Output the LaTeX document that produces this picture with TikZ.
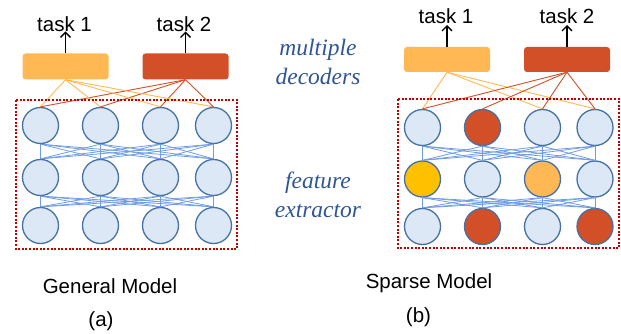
\documentclass[tikz,border=0pt]{standalone}
\usepackage{fontspec}
\setmainfont{Liberation Sans}
\newfontfamily\notefont{Liberation Serif}
\usepackage{tikz}
\usetikzlibrary{arrows.meta}

\definecolor{cellfill}{HTML}{DDE8F7}
\definecolor{celldraw}{HTML}{4571A6}
\definecolor{linkblue}{HTML}{6E9CE6}
\definecolor{taskone}{HTML}{FFB853}
\definecolor{tasktwo}{HTML}{D24F28}
\definecolor{gold}{HTML}{FFC000}
\definecolor{boxred}{HTML}{C00000}
\definecolor{noteblue}{HTML}{2F5597}

\tikzset{
  neuron/.style={circle, draw=celldraw, fill=cellfill, line width=1.3pt,
    minimum size=36pt, inner sep=0pt},
  decoder/.style={rounded corners=3pt, minimum width=86pt, minimum height=26pt,
    inner sep=0pt},
  link/.style={linkblue, line width=0.8pt},
  toone/.style={taskone, line width=0.9pt},
  totwo/.style={tasktwo, line width=0.9pt},
  frame/.style={boxred, line width=2pt, dash pattern=on 2pt off 1.6pt},
  taskarrow/.style={-{Straight Barb[length=5pt, width=10pt]}, line width=1.3pt},
  tasktext/.style={anchor=base, font=\fontsize{20.5}{25}\selectfont},
  note/.style={anchor=base, text=noteblue, font=\notefont\itshape\fontsize{23.5}{28}\selectfont}
}

\begin{document}
\begin{tikzpicture}[x=1pt, y=-1pt]
    \useasboundingbox (0, 0) rectangle (621, 334);

    % general model
    \node[decoder, fill=taskone] (gt1) at (65.5, 66.5) {};
    \node[decoder, fill=tasktwo] (gt2) at (185.5, 66.5) {};
    \node[tasktext] (gl1) at (64.5, 32) {task 1};
    \node[tasktext] (gl2) at (184, 32) {task 2};
    \coordinate (ga1) at (65.5, 31.5);
    \coordinate (ga2) at (185.5, 31.5);
    \draw[taskarrow] (gt1.north) -- (ga1);
    \draw[taskarrow] (gt2.north) -- (ga2);

    \foreach \c/\x in {1/40.5, 2/100.5, 3/160.5, 4/213.5} {
      \node[neuron] (g1\c) at (\x, 125.5) {};
      \node[neuron] (g2\c) at (\x, 177.5) {};
      \node[neuron] (g3\c) at (\x, 225.5) {};
    }
    \foreach \c in {1,...,4} {
      \draw[toone] (gt1.south) -- (g1\c.north);
      \draw[totwo] (gt2.south) -- (g1\c.north);
    }
    \foreach \r/\n in {1/2, 2/3}
      \foreach \a in {1,...,4}
        \foreach \b in {1,...,4}
          \draw[link] (g\r\a.south) -- (g\n\b.north);
    \draw[frame] (16, 100) rectangle (237, 249);

    % sparse model
    \node[decoder, fill=taskone, minimum height=25pt] (st1) at (447, 59.5) {};
    \node[decoder, fill=tasktwo, minimum height=25pt] (st2) at (567, 59.5) {};
    \node[tasktext] (sl1) at (446, 24) {task 1};
    \node[tasktext] (sl2) at (567, 24) {task 2};
    \coordinate (sa1) at (447, 25);
    \coordinate (sa2) at (567, 25);
    \draw[taskarrow] (st1.north) -- (sa1);
    \draw[taskarrow] (st2.north) -- (sa2);

    \foreach \c/\x/\fa/\fb/\fc in {1/422.5/cellfill/gold/cellfill,
        2/482.5/tasktwo/cellfill/tasktwo, 3/542.5/cellfill/taskone/cellfill,
        4/595/cellfill/cellfill/tasktwo} {
      \node[neuron, fill=\fa] (s1\c) at (\x, 127.5) {};
      \node[neuron, fill=\fb] (s2\c) at (\x, 179) {};
      \node[neuron, fill=\fc] (s3\c) at (\x, 226.5) {};
    }
    \foreach \c in {1, 3, 4}
      \draw[toone] (st1.south) -- (s1\c.north);
    \foreach \c in {1,...,4}
      \draw[totwo] (st2.south) -- (s1\c.north);
    \foreach \r/\n in {1/2, 2/3}
      \foreach \a in {1,...,4}
        \foreach \b in {1,...,4}
          \draw[link] (s\r\a.south) -- (s\n\b.north);
    \draw[frame] (398, 99) rectangle (619, 248);

    % notes in the middle
    \node[note] (n1) at (318, 56) {multiple};
    \node[note] (n2) at (318, 85) {decoders};
    \node[note] (n3) at (318, 188) {feature};
    \node[note] (n4) at (318, 217) {extractor};

    % captions
    \node[tasktext] (c1) at (110, 293) {General Model};
    \node[tasktext] (c2) at (101, 326) {(a)};
    \node[tasktext] (c3) at (429, 288) {Sparse Model};
    \node[tasktext] (c4) at (418.5, 322) {(b)};
\end{tikzpicture}
\end{document}
